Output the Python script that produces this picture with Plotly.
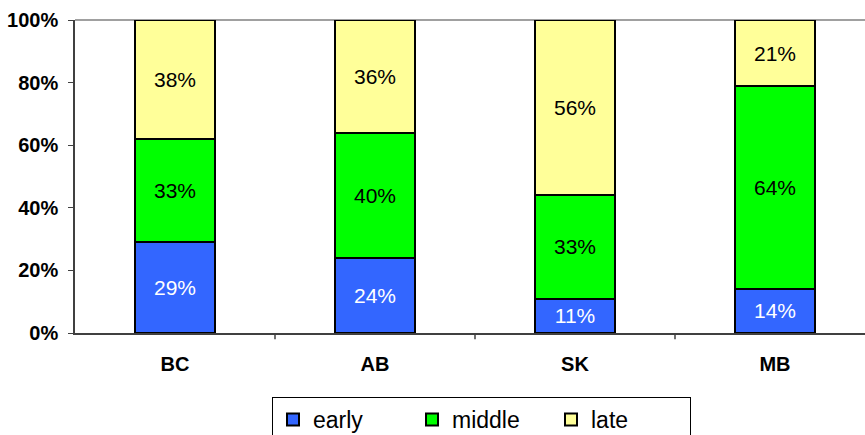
import plotly.graph_objects as go

categories = ["BC", "AB", "SK", "MB"]
early = [29, 24, 11, 14]
middle = [33, 40, 33, 64]
late = [38, 36, 56, 21]
series_names = ["early", "middle", "late"]
series_colors = ["#3366FF", "#00FF00", "#FFFF99"]
text_colors = ["white", "black", "black"]
y_tickvals = [0, 20, 40, 60, 80, 100]
y_ticktext = ["0%", "20%", "40%", "60%", "80%", "100%"]

FONT = "Arial, 'Liberation Sans', sans-serif"
xpos = list(range(len(categories)))

fig = go.Figure()
for name, vals, col, tcol in zip(series_names, [early, middle, late], series_colors, text_colors):
    fig.add_trace(go.Bar(
        x=xpos, y=vals, name=name,
        marker=dict(color=col, line=dict(color="black", width=2)),
        width=0.4,
        text=[f"{v}%" for v in vals],
        textposition="inside", insidetextanchor="middle",
        textfont=dict(family=FONT, size=21, color=tcol),
        constraintext="none",
        hoverinfo="skip",
    ))

fig.update_layout(
    barmode="stack", barnorm="percent",
    width=865, height=435,
    margin=dict(l=75, r=0, t=20, b=102, autoexpand=False),
    paper_bgcolor="white", plot_bgcolor="white",
    font=dict(family=FONT, color="black"),
    showlegend=True,
    legend=dict(
        orientation="h", x=(272 - 75) / 790, xanchor="left", y=-64 / 313, yanchor="top",
        bordercolor="black", borderwidth=1,
        font=dict(family=FONT, size=23, color="black"),
        entrywidth=94, traceorder="normal",
    ),
    xaxis=dict(
        range=[-0.5, 3.45], tickvals=xpos, ticktext=categories,
        showline=True, linecolor="#404040", linewidth=1.5,
        showgrid=False, zeroline=False,
        ticks="", tickfont=dict(family=FONT, size=20, color="black", weight="bold"),
        ticklabelstandoff=12,
    ),
    yaxis=dict(
        range=[0, 100], tickvals=y_tickvals, ticktext=y_ticktext,
        showline=True, linecolor="#404040", linewidth=1.5,
        showgrid=False, zeroline=False,
        ticks="outside", ticklen=5, tickcolor="#404040",
        tickfont=dict(family=FONT, size=20, color="black", weight="bold"),
        ticklabelstandoff=6,
    ),
)

# boundary tick marks between categories on the x axis
for b in [0.5, 1.5, 2.5]:
    fig.add_shape(type="line", xref="x", yref="paper", x0=b, x1=b, y0=0, y1=-0.02,
                  line=dict(color="#404040", width=1.5))
# top border line at 100%
fig.add_shape(type="line", xref="paper", yref="paper", x0=0, x1=1, y0=1, y1=1,
              line=dict(color="#808080", width=1.5), layer="below")

fig.write_html("out.html")
